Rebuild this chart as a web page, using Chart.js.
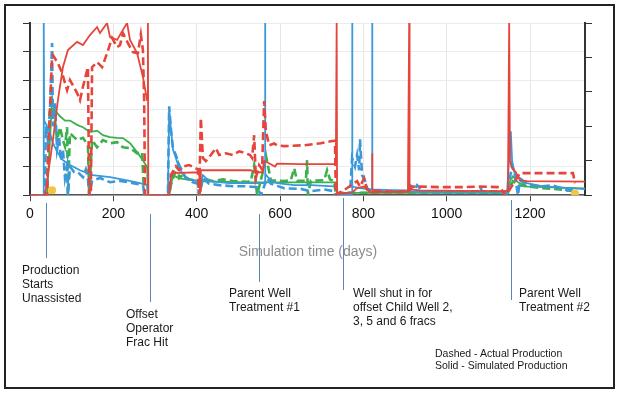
<!DOCTYPE html>
<html>
<head>
<meta charset="utf-8">
<script src="https://cdn.jsdelivr.net/npm/chart.js@4"></script>
<style>
  body { margin: 0; background: #fff; font-family: "Liberation Sans", Arial, sans-serif; }
  #wrap { position: relative; width: 620px; height: 394px; overflow: hidden; }
  #frame { position: absolute; left: 4px; top: 4px; width: 611px; height: 385px; border: 2px solid #222; box-sizing: border-box; }
  canvas { position: absolute; left: 0; top: 0; }
  .note { position: absolute; font-size: 12px; line-height: 14px; color: #1a1a1a; white-space: nowrap; }
  .small { font-size: 10.5px; line-height: 12px; }
  .lead { position: absolute; width: 1px; background: #5b86b8; }
  #xtitle { position: absolute; left: 208px; top: 243px; width: 200px; text-align: center; font-size: 14px; color: #8c8c8c; }
</style>
</head>
<body>
<div id="wrap">
  <canvas id="chart" width="620" height="394"></canvas>
  <div id="frame"></div>
  <div id="xtitle">Simulation time (days)</div>

  <div class="lead" style="left:46px; top:203px; height:55px;"></div>
  <div class="note" style="left:22px; top:263px;">Production<br>Starts<br>Unassisted</div>

  <div class="lead" style="left:150px; top:214px; height:88px;"></div>
  <div class="note" style="left:126px; top:307px;">Offset<br>Operator<br>Frac Hit</div>

  <div class="lead" style="left:259px; top:214px; height:68px;"></div>
  <div class="note" style="left:229px; top:286px;">Parent Well<br>Treatment #1</div>

  <div class="lead" style="left:343px; top:198px; height:92px;"></div>
  <div class="note" style="left:353px; top:286px;">Well shut in for<br>offset Child Well 2,<br>3, 5 and 6 fracs</div>

  <div class="lead" style="left:511px; top:200px; height:100px;"></div>
  <div class="note" style="left:519px; top:286px;">Parent Well<br>Treatment #2</div>

  <div class="note small" style="left:435px; top:347px;">Dashed - Actual Production<br>Solid - Simulated Production</div>
</div>
<script>
// x axis ticks (days)
const xTicks = [0, 200, 400, 600, 800, 1000, 1200];

// gas (red) - simulated / actual
const gasSimDays = [0, 36, 55, 67, 79, 91, 113, 127, 144, 161, 168, 185, 192, 209, 223, 233, 240, 257, 271, 281, 283, 284, 334, 338, 343, 406, 408, 410, 530, 542, 559, 562, 569, 588, 593, 648, 734, 736, 737, 773, 785, 802, 816, 821, 821, 822, 864, 907, 910, 911, 936, 1032, 1147, 1150, 1152, 1157, 1166, 1176, 1193, 1332];
const gasSimVals = [0, 0, 1.92, 3.31, 4.46, 5.06, 5.34, 5.23, 5.58, 5.86, 5.65, 6.0, 5.51, 5.41, 5.76, 6.0, 5.41, 4.95, 4.12, 3.31, 6, 0, 0, 0.6, 0.77, 0.8, 0.15, 0.87, 0.87, 0.8, 0.8, 1.19, 1.15, 1.0, 1.1, 1.08, 1.08, 6, 0.05, 0.1, 0.25, 0.3, 0.1, 0.1, 1.46, 0.1, 0.12, 0.12, 6, 0.2, 0.17, 0.15, 0.14, 6, 1.2, 0.95, 0.8, 0.52, 0.49, 0.47];
const gasActDays = [0, 41, 43, 48, 53, 55, 67, 77, 89, 96, 113, 120, 127, 139, 142, 146, 149, 161, 173, 185, 197, 209, 216, 223, 235, 247, 259, 266, 271, 274, 276, 334, 338, 350, 358, 367, 382, 403, 406, 410, 415, 422, 434, 446, 454, 470, 487, 502, 518, 528, 533, 538, 542, 550, 557, 562, 566, 574, 586, 593, 610, 658, 698, 722, 732, 734, 744, 756, 785, 792, 802, 809, 828, 888, 910, 917, 936, 984, 1037, 1080, 1128, 1140, 1147, 1162, 1176, 1193, 1303, 1308];
const gasActVals = [0, 0, 1.22, 2.96, 4.81, 4.88, 4.6, 4.26, 3.66, 4.01, 3.56, 3.31, 3.77, 4.46, 0, 0, 4.46, 4.64, 4.46, 4.95, 5.48, 5.16, 5.23, 5.65, 5.3, 4.99, 4.95, 5.6, 5.06, 3.3, 0, 0, 0.7, 1.0, 0.87, 1.0, 1.05, 0.9, 0, 2.69, 1.29, 1.19, 1.4, 1.64, 1.4, 1.46, 1.4, 1.53, 1.46, 1.4, 1.3, 2.09, 0.6, 1.05, 0.9, 3.28, 2.23, 1.74, 1.8, 1.74, 1.71, 1.74, 1.81, 1.88, 1.9, 0, 0.1, 0.2, 0.49, 0.3, 0.59, 0.2, 0.15, 0.12, 0.15, 0.3, 0.3, 0.28, 0.28, 0.3, 0.28, 0, 0.1, 0.45, 0.77, 0.77, 0.77, 0.42];

// oil (blue) - simulated / actual
const oilSimDays = [0, 31, 33, 33, 34, 41, 48, 55, 67, 79, 96, 120, 151, 192, 233, 264, 281, 283, 331, 334, 343, 350, 358, 374, 406, 408, 415, 430, 478, 523, 564, 564, 565, 578, 593, 634, 674, 730, 736, 737, 773, 773, 774, 792, 818, 821, 821, 822, 864, 910, 917, 1008, 1145, 1154, 1157, 1164, 1176, 1193, 1231, 1332];
const oilSimVals = [0, 0, 0, 6, 2.6, 2.4, 2.16, 1.81, 1.47, 1.22, 1.05, 0.87, 0.7, 0.63, 0.52, 0.42, 0.35, 0, 0, 2.96, 1.6, 1.3, 0.94, 0.59, 0.49, 0.3, 0.7, 0.49, 0.42, 0.42, 0.42, 6, 0.75, 0.49, 0.42, 0.35, 0.35, 0.31, 0.3, 0.05, 0.05, 6, 0.3, 0.25, 0.2, 0.2, 6, 0.2, 0.18, 0.17, 0.12, 0.1, 0.1, 2.23, 1.19, 0.7, 0.6, 0.42, 0.31, 0.21];
const oilActDays = [0, 36, 38, 43, 48, 53, 55, 60, 65, 70, 74, 79, 84, 89, 91, 96, 106, 115, 127, 134, 139, 142, 149, 168, 192, 216, 247, 271, 276, 331, 334, 338, 343, 350, 358, 367, 374, 391, 403, 406, 415, 430, 454, 487, 518, 545, 554, 569, 578, 610, 650, 674, 706, 730, 734, 768, 773, 780, 785, 790, 792, 797, 804, 809, 816, 864, 910, 912, 922, 929, 941, 1042, 1075, 1080, 1085, 1140, 1145, 1157, 1164, 1171, 1176, 1193, 1231, 1253, 1289, 1308];
const oilActVals = [0, 0, 2.4, 1.9, 3.0, 5.3, 2.4, 3.2, 1.6, 2.0, 1.2, 1.6, 0.6, 1.0, 0, 1.0, 0.8, 0.8, 0.63, 0.9, 0.6, 0, 0.5, 0.6, 0.45, 0.5, 0.42, 0.35, 0, 0, 3.1, 2.34, 1.64, 1.4, 1.05, 0.8, 0.6, 0.45, 0.4, 0, 0.59, 0.4, 0.35, 0.31, 0.31, 0.28, 0, 0.59, 0.4, 0.24, 0.22, 0.14, 0.2, 0.14, 0, 0, 1.29, 1.0, 1.4, 0.87, 1.95, 0.7, 0.5, 0.25, 0.14, 0.14, 0.14, 0.35, 0.2, 0.35, 0.14, 0.14, 0.14, 0.3, 0.14, 0.14, 0, 1.05, 0.7, 0, 0.52, 0.35, 0.31, 0.35, 0.17, 0.2];

// water (green) - simulated / actual
const waterSimDays = [0, 41, 53, 60, 72, 84, 96, 113, 127, 144, 161, 175, 192, 209, 223, 240, 257, 271, 281, 283, 334, 343, 358, 406, 454, 523, 736, 738, 1147, 1152, 1159, 1171, 1193, 1332];
const waterSimVals = [0, 0, 3.3, 2.95, 2.75, 2.6, 2.6, 2.45, 2.37, 2.2, 2.25, 2.09, 2.02, 2.0, 1.99, 1.81, 1.5, 1.22, 0.98, 0, 0, 0.7, 0.59, 0.49, 0.47, 0.45, 0.45, 0.08, 0.08, 0.49, 0.66, 0.45, 0.3, 0.24];
const waterActDays = [0, 41, 43, 48, 53, 60, 65, 72, 79, 84, 89, 91, 96, 113, 127, 139, 142, 149, 161, 175, 192, 209, 223, 240, 257, 269, 274, 334, 338, 346, 355, 358, 367, 382, 403, 406, 415, 439, 463, 487, 523, 530, 538, 545, 557, 566, 578, 610, 626, 634, 641, 662, 665, 667, 674, 706, 713, 720, 730, 734, 744, 900, 1147, 1152, 1159, 1171, 1231, 1272, 1303];
const waterActVals = [0, 0, 1.0, 2.96, 3.31, 2.62, 1.92, 2.37, 1.92, 1.7, 2.37, 0, 2.16, 1.92, 2.0, 1.74, 0, 1.92, 1.67, 1.92, 1.81, 1.85, 1.67, 1.64, 1.46, 1.5, 0, 0, 0.35, 0.7, 1.05, 0.6, 0.7, 0.55, 0.5, 0, 0.59, 0.49, 0.55, 0.49, 0.47, 0.49, 1.05, 0, 0.7, 1.4, 0.52, 0.49, 0.52, 0.94, 0.5, 0.5, 1.22, 0, 0.5, 0.52, 0.87, 0.55, 0.49, 0, 0.08, 0.1, 0.08, 0.3, 0.49, 0.35, 0.24, 0.2, 0.14];

// yellow markers
const markerDays = [53, 1308];
const markerVals = [0.17, 0.06];

const RED = '#e5453b';
const BLUE = '#3a98db';
const GREEN = '#3cb04c';

function pts(days, vals) {
    return days.map((d, i) => ({ x: d, y: vals[i] }));
}

function series(days, vals, color, dashed) {
    return {
        data: pts(days, vals),
        borderColor: color,
        borderWidth: dashed ? 2.6 : 1.8,
        borderDash: dashed ? [8, 4] : [],
        pointRadius: 0,
        tension: 0,
        fill: false
    };
}

const ctx = document.getElementById('chart').getContext('2d');
new Chart(ctx, {
    type: 'line',
    data: {
        datasets: [
            { data: pts(markerDays, markerVals), showLine: false, pointRadius: 4, pointBackgroundColor: '#f4c443', pointBorderWidth: 0, borderColor: '#f4c443' },
            series(gasSimDays, gasSimVals, RED, false),
            series(gasActDays, gasActVals, RED, true),
            series(oilSimDays, oilSimVals, BLUE, false),
            series(oilActDays, oilActVals, BLUE, true),
            series(waterSimDays, waterSimVals, GREEN, false),
            series(waterActDays, waterActVals, GREEN, true)
        ]
    },
    options: {
        responsive: false,
        animation: false,
        events: [],
        layout: { padding: { left: 23, right: 28, top: 23, bottom: 166 } },
        plugins: {
            legend: { display: false },
            tooltip: { enabled: false }
        },
        scales: {
            x: {
                type: 'linear',
                min: 0,
                max: 1332,
                afterBuildTicks: scale => { scale.ticks = xTicks.map(v => ({ value: v })); },
                grid: { color: '#e6e6e6', tickColor: '#444', tickLength: 6 },
                border: { color: '#555', width: 1.5 },
                ticks: {
                    color: '#111',
                    padding: 5,
                    maxRotation: 0,
                    font: { size: 14, family: '"Liberation Sans", Arial, sans-serif' },
                    callback: v => String(v)
                }
            },
            y: {
                position: 'left',
                min: 0,
                max: 6,
                ticks: { display: false, stepSize: 1 },
                grid: { color: '#ebebeb', tickColor: '#333', tickLength: 7 },
                border: { color: '#333', width: 2 }
            },
            y2: {
                position: 'right',
                min: 0,
                max: 5,
                ticks: { display: false, stepSize: 1 },
                grid: { drawOnChartArea: false, tickColor: '#333', tickLength: 7 },
                border: { color: '#333', width: 2 }
            }
        }
    }
});
</script>
</body>
</html>
